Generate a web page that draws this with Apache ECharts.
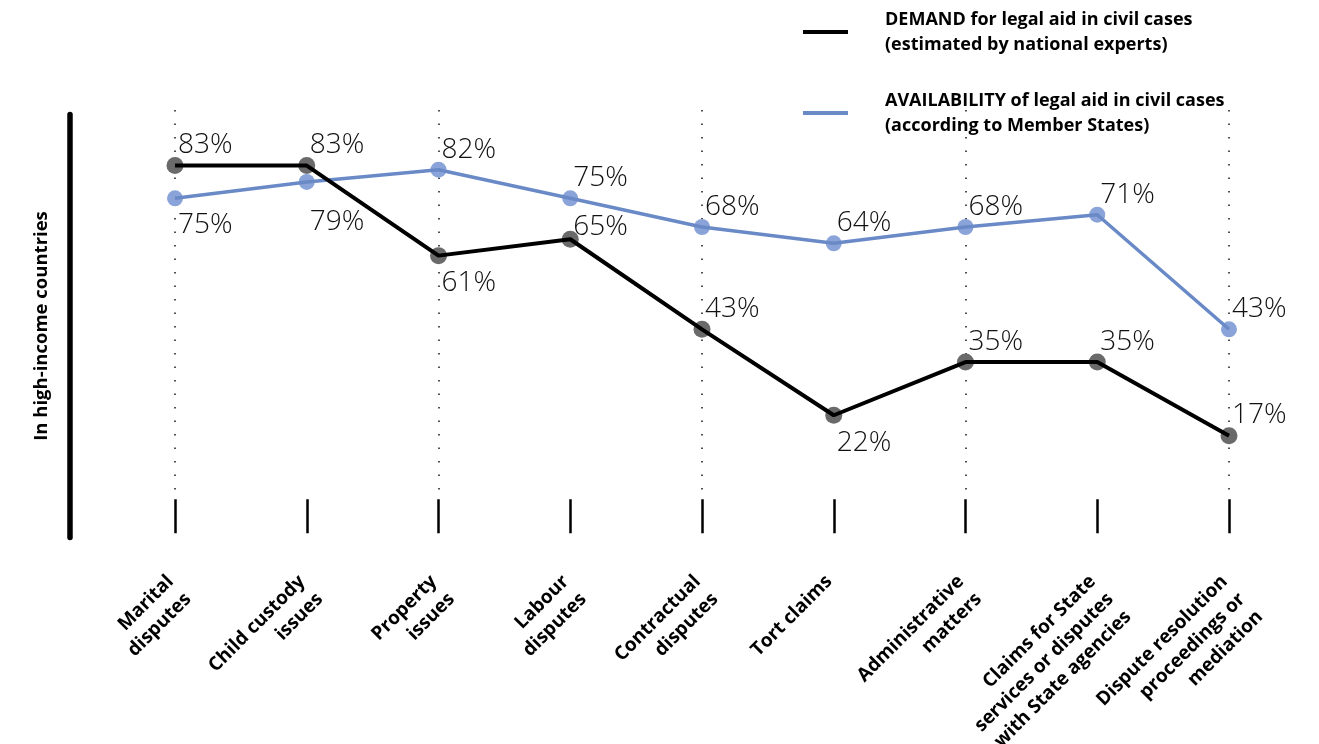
<!DOCTYPE html>
<html>
<head>
<meta charset="utf-8">
<script src="https://cdn.jsdelivr.net/npm/echarts@6/dist/echarts.min.js"></script>
<style>
html,body{margin:0;padding:0;background:#fff;}
#chart{width:1319px;height:744px;}
</style>
</head>
<body>
<div id="chart"></div>
<script>
// ---- data ----
const categories = [
  "Marital\ndisputes",
  "Child custody\nissues",
  "Property\nissues",
  "Labour\ndisputes",
  "Contractual\ndisputes",
  "Tort claims",
  "Administrative\nmatters",
  "Claims for State\nservices or disputes\nwith State agencies",
  "Dispute resolution\nproceedings or\nmediation"
];
const demandValues = [83, 83, 61, 65, 43, 22, 35, 35, 17];
const availabilityValues = [75, 79, 82, 75, 68, 64, 68, 71, 43];
const demandName = "DEMAND for legal aid in civil cases\n(estimated by national experts)";
const availabilityName = "AVAILABILITY of legal aid in civil cases\n(according to Member States)";
const sideTitle = "In high-income countries";

// ---- label placement (style, not data) ----
const demandLabelPlace = {2: 'below', 5: 'below', 3: 'near'};
const availLabelPlace = {0: 'below', 1: 'belowFar'};

const FONT = "'Open Sans', 'DejaVu Sans', sans-serif";
const labelBase = {
  show: true,
  formatter: p => p.value + '%',
  fontFamily: FONT,
  fontWeight: 300,
  fontSize: 28,
  color: '#111',
  opacity: 1,
  align: 'left'
};
function labelFor(place) {
  if (place === 'below') return {position: 'bottom', verticalAlign: 'top', distance: 3, offset: [3, 2]};
  if (place === 'belowFar') return {position: 'bottom', verticalAlign: 'top', distance: 3, offset: [3, 15]};
  if (place === 'near') return {position: 'top', verticalAlign: 'bottom', distance: 0, offset: [3, 10]};
  return {position: 'top', verticalAlign: 'bottom', distance: 0, offset: [3, 2]};
}
function pointData(values, places) {
  return values.map((v, i) => ({value: v, label: labelFor(places[i])}));
}

const chart = echarts.init(document.getElementById('chart'), null, {renderer: 'canvas'});
const option = {
  backgroundColor: '#ffffff',
  animation: false,
  legend: {
    orient: 'vertical',
    left: 803,
    top: 7,
    padding: 0,
    itemWidth: 45,
    itemHeight: 4,
    itemGap: 31,
    icon: 'rect',
    data: [demandName, availabilityName],
    textStyle: {
      fontFamily: FONT,
      fontWeight: 'bold',
      fontSize: 18,
      lineHeight: 25,
      color: '#000',
      padding: [0, 0, 0, 32]
    }
  },
  grid: [
    {left: 175, right: 90, top: 96, bottom: 238.7, containLabel: false, outerBoundsMode: 'none'},
    {left: 175, right: 90, top: 110, bottom: 249, containLabel: false, outerBoundsMode: 'none'},
    {left: 70, width: 10, top: 114.5, bottom: 206.5, containLabel: false, outerBoundsMode: 'none'}
  ],
  xAxis: [
    {
      gridIndex: 0, type: 'category', data: categories, boundaryGap: false,
      position: 'bottom', offset: -6,
      axisLine: {show: false},
      axisTick: {show: true, length: 34, lineStyle: {color: '#000', width: 2.5}},
      splitLine: {show: false},
      axisLabel: {
        interval: 0, rotate: 45, margin: 57,
        align: 'right', verticalAlign: 'top',
        padding: [0, 19, 0, 0],
        fontFamily: FONT, fontWeight: 'bold', fontSize: 19, lineHeight: 25, color: '#000'
      }
    },
    {
      gridIndex: 1, type: 'category', data: categories, boundaryGap: false,
      axisLine: {show: false}, axisTick: {show: false}, axisLabel: {show: false},
      splitLine: {show: true, lineStyle: {color: '#222', width: 1.6, type: [1.6, 11.9]}}
    },
    {gridIndex: 2, type: 'value', show: false}
  ],
  yAxis: [
    {gridIndex: 0, type: 'value', min: 0, max: 100, show: false},
    {gridIndex: 1, type: 'value', min: 0, max: 100, show: false},
    {
      gridIndex: 2, type: 'value', min: 0, max: 1,
      axisLine: {show: true, lineStyle: {color: '#000', width: 5.5, cap: 'round'}},
      axisTick: {show: false}, axisLabel: {show: false}, splitLine: {show: false},
      name: sideTitle, nameLocation: 'middle', nameRotate: 90, nameGap: 19,
      nameTextStyle: {fontFamily: FONT, fontWeight: 'bold', fontSize: 18.5, color: '#000'}
    }
  ],
  series: [
    {
      name: demandName + '_pts', type: 'scatter', xAxisIndex: 0, yAxisIndex: 0, z: 1,
      symbolSize: 17, itemStyle: {color: '#6a6a6a', opacity: 1},
      label: labelBase,
      data: pointData(demandValues, demandLabelPlace)
    },
    {
      name: availabilityName + '_pts', type: 'scatter', xAxisIndex: 0, yAxisIndex: 0, z: 1,
      symbolSize: 16, itemStyle: {color: '#8aa3d8', opacity: 1},
      label: labelBase,
      data: pointData(availabilityValues, availLabelPlace)
    },
    {
      name: availabilityName, type: 'line', xAxisIndex: 0, yAxisIndex: 0, z: 2,
      showSymbol: false, symbol: 'none',
      lineStyle: {color: '#6a8ac7', width: 3.5},
      itemStyle: {color: '#6a8ac7'},
      data: availabilityValues
    },
    {
      name: demandName, type: 'line', xAxisIndex: 0, yAxisIndex: 0, z: 3,
      showSymbol: false, symbol: 'none',
      lineStyle: {color: '#000', width: 4},
      itemStyle: {color: '#000'},
      data: demandValues
    }
  ]
};
chart.setOption(option);
</script>
</body>
</html>
